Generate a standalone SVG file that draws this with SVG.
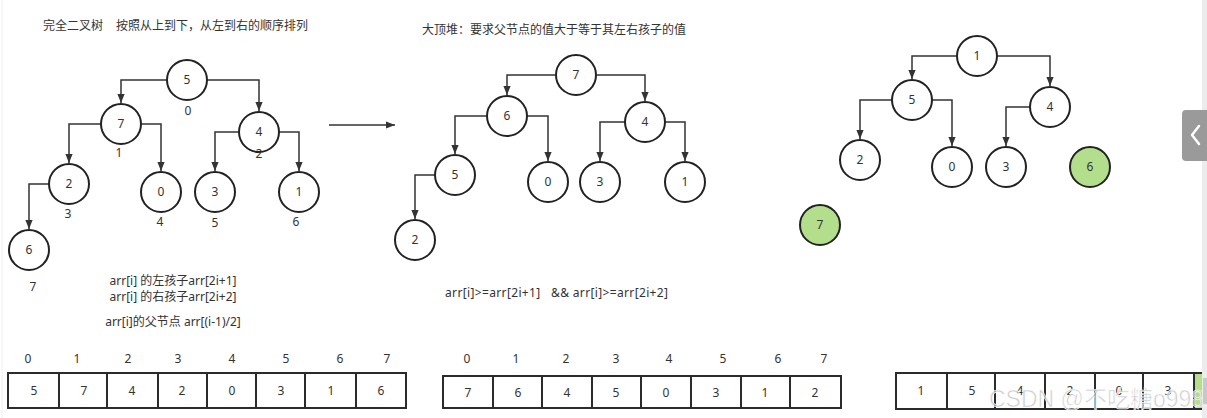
<svg xmlns="http://www.w3.org/2000/svg" width="1207" height="418" viewBox="0 0 1207 418">
<defs>
<marker id="ah" viewBox="0 0 10 8" refX="10" refY="4" markerWidth="9" markerHeight="8" orient="auto" markerUnits="userSpaceOnUse">
<path d="M0,0 L10,4 L0,8 z" fill="#333"/>
</marker>
<style>
.n circle{fill:#fff;stroke:#222;stroke-width:2}
.n.g circle{fill:#b3df8d}
.t{font-family:"Noto Sans","Noto Sans CJK SC",sans-serif;font-size:12px;fill:#333;text-anchor:middle}
.tl{font-family:"Noto Sans","Noto Sans CJK SC",sans-serif;font-size:12px;fill:#333}
.e{fill:none;stroke:#333;stroke-width:1.5;marker-end:url(#ah)}
.c{fill:#fff;stroke:#2b2b2b;stroke-width:2}
</style>
</defs>
<rect width="1207" height="418" fill="#fff"/>
<line x1="2" y1="0" x2="2" y2="418" stroke="#eee" stroke-width="1"/>

<text class="tl" x="43" y="30">完全二叉树<tspan x="116">按照从上到下，从左到右的顺序排列</tspan></text>
<text class="tl" x="422" y="34">大顶堆：要求父节点的值大于等于其左右孩子的值</text>

<g id="connectors">
<path class="e" d="M167,80 H121 V103"/>
<path class="e" d="M207,80 H259 V111"/>
<path class="e" d="M101,124 H69 V163"/>
<path class="e" d="M141,124 H161 V171"/>
<path class="e" d="M239,132 H215 V171"/>
<path class="e" d="M279,132 H299 V171"/>
<path class="e" d="M49,184 H29 V229"/>
<path class="e" d="M329,125 H395"/>
<path class="e" d="M556,75 H507 V95"/>
<path class="e" d="M596,75 H645 V101"/>
<path class="e" d="M487,116 H455 V154"/>
<path class="e" d="M527,116 H548 V161"/>
<path class="e" d="M625,122 H600 V161"/>
<path class="e" d="M665,122 H685 V161"/>
<path class="e" d="M435,175 H415 V219"/>
<path class="e" d="M957,56 H912 V79"/>
<path class="e" d="M997,56 H1050 V86"/>
<path class="e" d="M892,100 H860 V139"/>
<path class="e" d="M932,100 H952 V146"/>
<path class="e" d="M1030,107 H1006 V146"/>
</g>

<g id="tree1">
<g id="a5" class="n"><circle cx="187" cy="80" r="20"/><text class="t" x="187" y="84">5</text></g>
<g id="a7" class="n"><circle cx="121" cy="124" r="20"/><text class="t" x="121" y="128">7</text></g>
<g id="a4" class="n"><circle cx="259" cy="132" r="20"/><text class="t" x="259" y="136">4</text></g>
<g id="a2" class="n"><circle cx="69" cy="184" r="20"/><text class="t" x="69" y="188">2</text></g>
<g id="a0" class="n"><circle cx="161" cy="192" r="20"/><text class="t" x="161" y="196">0</text></g>
<g id="a3" class="n"><circle cx="215" cy="192" r="20"/><text class="t" x="215" y="196">3</text></g>
<g id="a1" class="n"><circle cx="299" cy="192" r="20"/><text class="t" x="299" y="196">1</text></g>
<g id="a6" class="n"><circle cx="29" cy="250" r="20"/><text class="t" x="29" y="254">6</text></g>
<text class="t" x="188" y="115">0</text>
<text class="t" x="119" y="157">1</text>
<text class="t" x="259" y="158">2</text>
<text class="t" x="68" y="218">3</text>
<text class="t" x="160" y="226">4</text>
<text class="t" x="215" y="227">5</text>
<text class="t" x="296" y="226">6</text>
<text class="t" x="33" y="291">7</text>
</g>

<text class="t" x="173" y="285">arr[i] 的左孩子arr[2i+1]</text>
<text class="t" x="173" y="301">arr[i] 的右孩子arr[2i+2]</text>
<text class="t" x="173" y="326">arr[i]的父节点 arr[(i-1)/2]</text>
<text class="tl" x="445" y="297" textLength="223" lengthAdjust="spacing" xml:space="preserve">arr[i]&gt;=arr[2i+1]   &amp;&amp; arr[i]&gt;=arr[2i+2]</text>

<g id="tree2">
<g id="b7" class="n"><circle cx="576" cy="75" r="20"/><text class="t" x="576" y="79">7</text></g>
<g id="b6" class="n"><circle cx="507" cy="116" r="20"/><text class="t" x="507" y="120">6</text></g>
<g id="b4" class="n"><circle cx="645" cy="122" r="20"/><text class="t" x="645" y="126">4</text></g>
<g id="b5" class="n"><circle cx="455" cy="175" r="20"/><text class="t" x="455" y="179">5</text></g>
<g id="b0" class="n"><circle cx="548" cy="182" r="20"/><text class="t" x="548" y="186">0</text></g>
<g id="b3" class="n"><circle cx="600" cy="182" r="20"/><text class="t" x="600" y="186">3</text></g>
<g id="b1" class="n"><circle cx="685" cy="182" r="20"/><text class="t" x="685" y="186">1</text></g>
<g id="b2" class="n"><circle cx="415" cy="240" r="20"/><text class="t" x="415" y="244">2</text></g>
</g>

<g id="tree3">
<g id="c1" class="n"><circle cx="977" cy="56" r="20"/><text class="t" x="977" y="60">1</text></g>
<g id="c5" class="n"><circle cx="912" cy="100" r="20"/><text class="t" x="912" y="104">5</text></g>
<g id="c4" class="n"><circle cx="1050" cy="107" r="20"/><text class="t" x="1050" y="111">4</text></g>
<g id="c2" class="n"><circle cx="860" cy="160" r="20"/><text class="t" x="860" y="164">2</text></g>
<g id="c0" class="n"><circle cx="952" cy="167" r="20"/><text class="t" x="952" y="171">0</text></g>
<g id="c3" class="n"><circle cx="1006" cy="167" r="20"/><text class="t" x="1006" y="171">3</text></g>
<g id="c6" class="n g"><circle cx="1090" cy="167" r="20"/><text class="t" x="1090" y="171">6</text></g>
<g id="c7" class="n g"><circle cx="820" cy="225" r="20"/><text class="t" x="820" y="229">7</text></g>
</g>

<g id="array1">
<rect class="c" x="8" y="373" width="51" height="35"/><rect class="c" x="59" y="373" width="48" height="35"/>
<rect class="c" x="107" y="373" width="51" height="35"/><rect class="c" x="158" y="373" width="49" height="35"/>
<rect class="c" x="207" y="373" width="49" height="35"/><rect class="c" x="256" y="373" width="49" height="35"/>
<rect class="c" x="305" y="373" width="51" height="35"/><rect class="c" x="356" y="373" width="50" height="35"/>
<text class="t" x="34" y="395">5</text><text class="t" x="84" y="395">7</text><text class="t" x="132" y="395">4</text><text class="t" x="182" y="395">2</text>
<text class="t" x="232" y="395">0</text><text class="t" x="281" y="395">3</text><text class="t" x="331" y="395">1</text><text class="t" x="381" y="395">6</text>
<text class="t" x="28" y="363">0</text><text class="t" x="77" y="363">1</text><text class="t" x="128" y="363">2</text><text class="t" x="178" y="363">3</text>
<text class="t" x="232" y="363">4</text><text class="t" x="286" y="363">5</text><text class="t" x="340" y="363">6</text><text class="t" x="387" y="363">7</text>
</g>

<g id="array2">
<rect class="c" x="443" y="376" width="50" height="32"/><rect class="c" x="493" y="376" width="49" height="32"/>
<rect class="c" x="542" y="376" width="50" height="32"/><rect class="c" x="592" y="376" width="49" height="32"/>
<rect class="c" x="641" y="376" width="50" height="32"/><rect class="c" x="691" y="376" width="50" height="32"/>
<rect class="c" x="741" y="376" width="49" height="32"/><rect class="c" x="790" y="376" width="51" height="32"/>
<text class="t" x="468" y="397">7</text><text class="t" x="518" y="397">6</text><text class="t" x="567" y="397">4</text><text class="t" x="616" y="397">5</text>
<text class="t" x="666" y="397">0</text><text class="t" x="716" y="397">3</text><text class="t" x="765" y="397">1</text><text class="t" x="815" y="397">2</text>
<text class="t" x="467" y="363">0</text><text class="t" x="516" y="363">1</text><text class="t" x="566" y="363">2</text><text class="t" x="616" y="363">3</text>
<text class="t" x="669" y="363">4</text><text class="t" x="723" y="363">5</text><text class="t" x="778" y="363">6</text><text class="t" x="824" y="363">7</text>
</g>

<g id="array3">
<rect class="c" x="896" y="373" width="51" height="36"/><rect class="c" x="947" y="373" width="48" height="36"/>
<rect class="c" x="995" y="373" width="50" height="36"/><rect class="c" x="1045" y="373" width="50" height="36"/>
<rect class="c" x="1095" y="373" width="48" height="36"/><rect class="c" x="1143" y="373" width="51" height="36"/>
<rect x="1194" y="373" width="14" height="36" fill="#b3df8d" stroke="#2b2b2b" stroke-width="2"/>
<text class="t" x="921" y="395">1</text><text class="t" x="972" y="395">5</text><text class="t" x="1020" y="395">4</text><text class="t" x="1070" y="395">2</text>
<text class="t" x="1119" y="395">0</text><text class="t" x="1168" y="395">3</text>
</g>

<text x="989" y="407" font-family="'Liberation Sans','Noto Sans CJK SC',sans-serif" font-size="23" fill="#bdbdbd" fill-opacity="0.75" stroke="#fff" stroke-width="0.6">CSDN @不吃糖o998</text>

<rect x="1202" y="0" width="5" height="418" fill="#ececec"/>
<rect x="1203" y="378" width="4" height="26" fill="#c8c8c8"/>
<rect x="1182" y="110" width="30" height="51" rx="4" fill="#9a9a9a"/>
<path d="M1199,126 L1192,135 L1199,144" fill="none" stroke="#fff" stroke-width="2.5" stroke-linecap="round" stroke-linejoin="round"/>
</svg>
